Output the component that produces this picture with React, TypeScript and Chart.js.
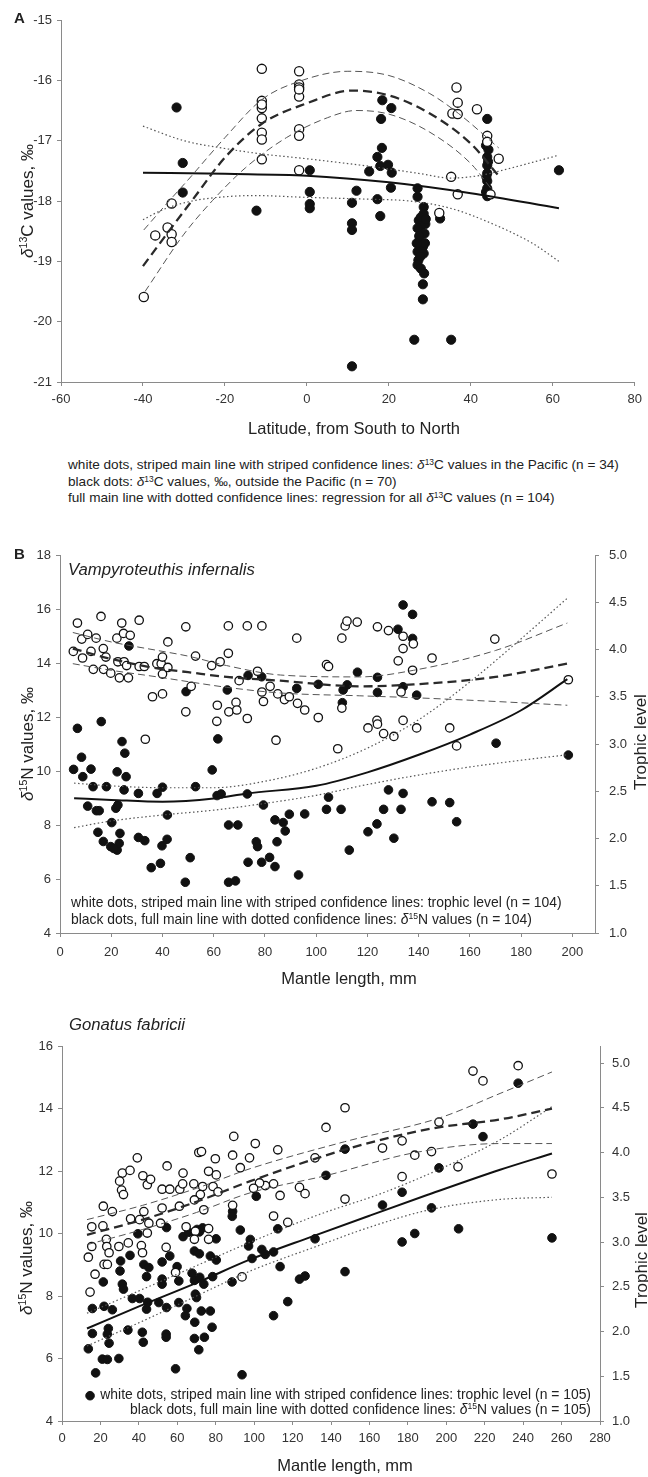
import React, { useEffect, useRef } from "react";
import { Chart, registerables } from "chart.js";
Chart.register(...registerables);

type P = [number, number];
const FONT = '"Liberation Sans", Arial, Helvetica, sans-serif';
const AXIS = "#8a8a8a";
const TICK_TXT = "#333";

// ---------------- Panel A : latitude vs d13C ----------------
const aPacific: P[] = [
  [-11, -15.81], [-1.9, -15.85], [-1.9, -16.07], [-1.9, -16.12], [-1.9, -16.27], [-11, -16.34], [-11, -16.46],
  [-11, -16.63], [-11, -16.87], [-11, -16.98], [-11, -17.31], [-1.9, -16.81], [-1.9, -16.92], [-1.9, -17.49],
  [36.5, -16.12], [36.8, -16.37], [35.5, -16.55], [36.8, -16.56], [41.5, -16.48], [44, -16.92], [46.8, -17.3],
  [35.2, -17.6], [36.8, -17.89], [44.8, -17.89], [32.3, -18.2], [-33, -18.04], [-34, -18.44], [-33, -18.55],
  [-37, -18.57], [-33, -18.68], [-39.8, -19.59], [-11, -16.4], [-1.9, -16.15], [44, -17.02],
];
const aOutside: P[] = [
  [-31.8, -16.45], [-30.3, -17.37], [-30.3, -17.86], [0.7, -17.49], [0.7, -17.85], [0.7, -18.05], [0.7, -18.12],
  [18.4, -16.33], [20.6, -16.46], [18.1, -16.64], [18.3, -17.12], [17.2, -17.27], [17.9, -17.42], [15.2, -17.51],
  [20.7, -17.53], [20.5, -17.78], [12.1, -17.83], [44, -16.64], [44, -17.02], [43.7, -17.08], [44, -17.27],
  [44, -17.41], [44, -17.54], [44, -17.67], [44, -17.79], [43.7, -17.85], [61.5, -17.49], [27, -17.79],
  [27, -17.93], [-12.3, -18.16], [11, -18.03], [11, -18.37], [11, -18.48], [17.2, -17.97], [17.9, -18.25],
  [32.5, -18.29], [26.2, -20.3], [35.2, -20.3], [11, -20.74], [44, -17.92], [28.5, -18.1], [28.5, -18.21],
  [27.3, -18.32], [28, -18.4], [27, -18.45], [28.7, -18.54], [27.5, -18.65], [28.3, -18.76], [27, -18.84],
  [28.5, -18.87], [27.2, -18.98], [27, -19.06], [27.8, -19.12], [28.6, -19.2], [28.3, -19.38], [28.3, -19.63],
  [44.3, -17.15], [43.8, -17.6], [44.2, -17.35], [27.8, -18.27], [28.9, -18.38], [27.4, -18.58], [28.8, -18.7],
  [27.7, -18.92], [26.8, -18.7], [29, -18.3], [19.8, -17.4],
];
const aPacFit: P[] = [
  [-40, -19.08], [-34, -18.53], [-28, -17.99], [-20, -17.28], [-11, -16.72], [0, -16.38], [11, -16.17],
  [20, -16.25], [30, -16.55], [40, -17.05], [47, -17.6],
];
const aPacUpper: P[] = [
  [-39.8, -18.48], [-33.5, -17.99], [-29, -17.65], [-20, -16.95], [-11, -16.32], [-2, -16.02], [10, -15.85],
  [20, -15.92], [30, -16.22], [37, -16.55], [46.8, -17.12],
];
const aPacLower: P[] = [
  [-39.5, -19.5], [-30, -18.55], [-23, -17.99], [-15, -17.45], [-5, -16.95], [5, -16.62], [12, -16.5],
  [20, -16.56], [30, -16.86], [40, -17.38], [45, -17.8],
];
const aAllFit: P[] = [[-40, -17.53], [-20, -17.55], [0, -17.58], [20, -17.69], [40, -17.87], [61.5, -18.12]];
const aAllUpper: P[] = [
  [-40, -16.76], [-30, -17.0], [-20, -17.13], [-11, -17.22], [0, -17.3], [10, -17.38], [18, -17.45],
  [28, -17.55], [35, -17.62], [42, -17.58], [50, -17.45], [61.5, -17.24],
];
const aAllLower: P[] = [
  [-40, -18.31], [-35, -18.14], [-28, -18.0], [-20, -17.93], [-13, -17.91], [0, -17.94], [15, -17.97],
  [25, -18.0], [35, -18.12], [45, -18.37], [55, -18.7], [61.5, -19.0],
];

// ---------------- Panel B : Vampyroteuthis infernalis ----------------
const bTrophic: P[] = [
  [6.8, 4.28], [5.2, 3.98], [8.8, 3.91], [8.5, 4.11], [10.8, 4.16], [12.1, 3.98], [13, 3.79], [14.1, 4.12],
  [16, 4.35], [16.9, 4.01], [17.9, 3.92], [17, 3.79], [19.8, 3.75], [22.2, 4.12], [22.6, 3.87], [23.2, 3.7],
  [24.1, 4.28], [24.8, 4.17], [25, 3.87], [26, 3.83], [26.7, 3.7], [27.4, 4.15], [30.9, 4.31], [30.9, 3.82],
  [32.9, 3.82], [33.3, 3.05], [36.1, 3.5], [37.8, 3.85], [39.5, 3.85], [40, 3.53], [40, 3.74], [40, 3.92],
  [42.1, 3.81], [42.1, 4.08], [49.1, 4.24], [49.1, 3.34], [51.2, 3.61], [52.9, 3.93], [59.2, 3.83], [61.4, 3.41],
  [61.2, 3.24], [62.5, 3.87], [65.7, 3.96], [65.7, 4.25], [65.9, 3.34], [68.7, 3.44], [69, 3.36], [69.9, 3.67],
  [73.1, 4.25], [73.1, 3.27], [78.8, 4.25], [77.1, 3.77], [78.8, 3.55], [79.4, 3.45], [82, 3.61], [84.3, 3.04],
  [85, 3.53], [87.6, 3.47], [89.5, 3.5], [92.4, 4.12], [92.7, 3.43], [95.5, 3.36], [100.8, 3.28], [104, 3.84],
  [104.8, 3.82], [108.4, 2.95], [110, 4.12], [110, 3.38], [111.3, 4.25], [112, 4.3], [116, 4.29], [120.2, 3.17],
  [123.7, 3.25], [123.9, 3.21], [126.3, 3.11], [130.3, 3.08], [123.9, 4.24], [128.2, 4.2], [132, 3.88],
  [133.9, 4.01], [133.9, 4.14], [133.1, 3.55], [133.9, 3.25], [137.9, 4.06], [137.6, 3.78], [139.2, 3.17],
  [145.2, 3.91], [152.1, 3.17], [154.8, 2.98], [169.7, 4.11], [198.4, 3.68],
];
const bN15: P[] = [
  [6.8, 11.58], [8.4, 10.51], [5.3, 10.06], [8.9, 9.79], [12.1, 10.07], [16.1, 11.83], [24.2, 11.09],
  [25.3, 10.66], [25.8, 9.79], [22.3, 9.97], [26.9, 14.63], [49.2, 12.94], [59.4, 10.04], [61.6, 11.19],
  [65.3, 13.0], [73.4, 13.54], [78.7, 13.49], [92.4, 13.06], [100.8, 13.21], [110.2, 12.53], [110.5, 13.0],
  [112.1, 13.19], [116.1, 13.66], [123.9, 13.47], [123.9, 12.91], [131.9, 15.25], [133.9, 16.15], [137.6, 15.8],
  [137.6, 14.91], [133.9, 13.12], [139.2, 12.81], [170.2, 11.03], [198.4, 10.59],
  [12.9, 9.42], [18.1, 9.42], [25, 9.3], [30.6, 9.17], [40, 9.4], [37.9, 9.17], [52.9, 9.42], [61.3, 9.09],
  [62.9, 9.15], [73.1, 9.15], [128.2, 9.3], [133.9, 9.17], [10.8, 8.7], [14.2, 8.53], [15.3, 8.53], [21.8, 8.62],
  [22.6, 8.74], [14.8, 7.73], [16.9, 7.39], [19.8, 7.2], [20.2, 8.09], [22.3, 7.07], [23.1, 7.32], [23.4, 7.69],
  [21, 7.13], [30.6, 7.54], [33.1, 7.42], [35.6, 6.42], [39.2, 6.58], [39.8, 7.23], [41.8, 7.47], [41.9, 8.37],
  [48.9, 5.88], [50.8, 6.79], [65.8, 8.0], [65.8, 5.88], [69.4, 8.0], [68.5, 5.93], [73.4, 6.62], [76.6, 7.38],
  [77.1, 7.2], [78.7, 6.62], [79.4, 8.74], [81.8, 6.8], [83.9, 6.46], [83.9, 8.19], [84.7, 7.38], [87.1, 8.09],
  [87.9, 7.78], [89.5, 8.4], [93.1, 6.15], [95.5, 8.41], [104, 8.58], [104.8, 9.03], [109.7, 8.58], [112.9, 7.07],
  [120.2, 7.75], [123.7, 8.04], [126.3, 8.58], [130.3, 7.51], [133.1, 8.58], [145.2, 8.86], [152.1, 8.83],
  [154.8, 8.12],
];
const bTLFit: P[] = [[5, 4.01], [20, 3.9], [38, 3.8], [50, 3.76], [65, 3.71], [86, 3.67], [117, 3.61], [138, 3.63], [170, 3.71], [198, 3.85]];
const bTLUpper: P[] = [[5, 4.18], [20, 4.08], [38, 3.99], [50, 3.93], [65, 3.83], [86, 3.73], [117, 3.71], [138, 3.78], [170, 3.99], [198, 4.28]];
const bTLLower: P[] = [[5, 3.85], [20, 3.78], [38, 3.71], [50, 3.66], [65, 3.6], [86, 3.54], [117, 3.51], [138, 3.49], [170, 3.45], [198, 3.41]];
const bNFit: P[] = [[5.5, 8.99], [20, 8.93], [40, 8.86], [60, 8.98], [73, 9.17], [100, 9.45], [120, 9.95], [140, 10.6], [160, 11.35], [180, 12.25], [198, 13.4]];
const bNUpper: P[] = [[5.5, 9.55], [20, 9.45], [40, 9.38], [60, 9.38], [80, 9.62], [100, 10.1], [120, 10.85], [140, 11.9], [160, 13.3], [180, 14.9], [198, 16.4]];
const bNLower: P[] = [[5.5, 7.9], [20, 8.15], [40, 8.37], [60, 8.55], [80, 8.8], [100, 9.1], [120, 9.5], [140, 9.85], [160, 10.15], [180, 10.4], [198, 10.6]];

// ---------------- Panel C : Gonatus fabricii ----------------
const cTrophic: P[] = [
  [39.2, 3.94], [54.7, 3.85], [71.2, 4.0], [72.6, 4.01], [79.8, 3.93], [88.8, 3.97], [92.8, 3.83], [97.6, 3.94],
  [100.6, 4.1], [31.4, 3.77], [35.4, 3.8], [30, 3.68], [31, 3.58], [32, 3.53], [42.1, 3.74], [44.4, 3.64],
  [46.1, 3.7], [52.1, 3.59], [56.1, 3.59], [61.3, 3.59], [63, 3.77], [62.8, 3.65], [68.6, 3.65], [73.2, 3.62],
  [76.3, 3.79], [78.6, 3.62], [80.3, 3.75], [81.2, 3.56], [72, 3.53], [68.9, 3.47], [73.8, 3.36], [21.5, 3.4],
  [26.2, 3.34], [35.7, 3.26], [40.4, 3.25], [42.6, 3.34], [45.2, 3.21], [51.3, 3.21], [52.1, 3.38], [61.1, 3.4],
  [64.6, 3.17], [76.3, 3.15], [69.4, 3.12], [44.4, 3.1], [15.5, 3.17], [21.3, 3.18], [15.5, 2.95], [23.1, 3.03],
  [23.3, 2.95], [29.6, 2.95], [34.5, 2.99], [41.3, 2.96], [41.9, 2.88], [24.5, 2.88], [13.7, 2.83], [21.9, 2.75],
  [23.6, 2.75], [54.2, 2.94], [68.9, 3.03], [76.3, 3.03], [59.1, 2.66], [88.8, 3.41], [17.2, 2.64], [14.6, 2.44],
  [93.7, 2.61], [213.9, 4.91], [219.1, 4.8], [147.3, 4.5], [137.4, 4.28], [112.3, 4.03], [131.7, 3.94],
  [166.8, 4.05], [177, 4.13], [196.2, 4.34], [183.6, 3.97], [192.3, 4.01], [206.1, 3.84], [177, 3.73],
  [147.3, 3.48], [123.6, 3.61], [126.5, 3.54], [113.5, 3.52], [110.1, 3.29], [117.5, 3.22], [110.1, 3.65],
  [105.8, 3.63], [102.8, 3.66], [99.7, 3.6], [237.4, 4.97], [255, 3.76], [89.4, 4.18],
];
const cN15: P[] = [
  [147.3, 12.7], [137.4, 11.86], [196.2, 12.1], [177, 11.32], [166.8, 10.91], [192.3, 10.82], [206.4, 10.15],
  [183.6, 10.0], [177, 9.73], [147.3, 8.78], [131.7, 9.83], [112.3, 10.15], [113.5, 8.94], [123.6, 8.54],
  [126.5, 8.64], [117.5, 7.82], [110.1, 7.37], [110.1, 9.41], [104, 9.49], [105.8, 9.33], [98.9, 9.2], [98, 9.81],
  [101.1, 11.19], [237.4, 14.81], [219.1, 13.1], [213.9, 13.5], [255, 9.86], [88.8, 10.71], [88.6, 10.55],
  [92.8, 10.11], [97.1, 9.6], [54.4, 10.19], [39.5, 9.99], [63, 9.9], [70.3, 10.13], [71.5, 10.05], [73.2, 10.18],
  [66, 10.04], [80.2, 9.83], [56.1, 9.28], [68.9, 9.44], [71.5, 9.35], [77.2, 9.28], [80.3, 9.15], [35.4, 9.3],
  [30.5, 9.12], [42.6, 9.01], [45.2, 8.91], [52.1, 9.09], [59.9, 8.94], [30.2, 8.8], [44, 8.62], [52.1, 8.54],
  [52.1, 8.38], [60.8, 8.48], [67.7, 8.73], [68.9, 8.5], [71.7, 8.6], [78.4, 8.62], [73.8, 8.38], [69.4, 8.06],
  [70, 7.95], [21.5, 8.45], [31.4, 8.38], [32, 8.22], [36.6, 7.92], [40.4, 7.92], [44, 7.58], [44.6, 7.8],
  [50.4, 7.79], [54.4, 7.63], [60.8, 7.79], [64.2, 7.37], [65, 7.6], [69.1, 7.16], [72.5, 7.52], [77.2, 7.52],
  [78.1, 7.0], [74.1, 6.68], [68.9, 6.64], [71.2, 6.28], [54.2, 6.78], [54.2, 6.68], [41.8, 6.84], [42.3, 6.52],
  [34.3, 6.91], [24.1, 6.96], [23.6, 6.78], [24.5, 6.49], [15.8, 7.6], [21.9, 7.67], [26.2, 7.56], [15.8, 6.8],
  [13.7, 6.31], [21, 5.98], [23.6, 5.97], [29.6, 6.0], [17.5, 5.54], [59.1, 5.67], [93.7, 5.48], [14.6, 4.81],
  [88.5, 8.45],
];
const cTLFit: P[] = [[13, 3.08], [42, 3.25], [70, 3.45], [98, 3.68], [150, 4.05], [193, 4.27], [228, 4.37], [255, 4.49]];
const cTLUpper: P[] = [[13, 3.25], [42, 3.41], [70, 3.6], [98, 3.82], [147, 4.12], [197, 4.39], [228, 4.66], [255, 4.9]];
const cTLLower: P[] = [[13, 2.97], [42, 3.14], [70, 3.33], [98, 3.55], [137, 3.74], [184, 4.0], [228, 4.1], [255, 4.1]];
const cNFit: P[] = [[13, 6.96], [41, 7.69], [70, 8.42], [98, 9.17], [130, 9.9], [160, 10.57], [190, 11.23], [228, 12.04], [255, 12.56]];
const cNUpper: P[] = [[13, 7.45], [26, 7.79], [60, 8.7], [98, 9.72], [133, 10.59], [167, 11.3], [197, 12.07], [228, 13.0], [255, 14.06]];
const cNLower: P[] = [[13, 6.4], [41, 7.17], [70, 8.0], [98, 8.8], [133, 9.6], [160, 10.2], [192, 10.77], [228, 11.09], [255, 11.16]];

// ---------------- helpers ----------------
const pts = (a: P[]) => a.map(([x, y]) => ({ x, y }));

function dots(a: P[], filled: boolean, r: number, yAxisID = "y") {
  return {
    data: pts(a), yAxisID, showLine: false, pointRadius: r, pointHoverRadius: r,
    pointBackgroundColor: filled ? "#111" : "#fff", pointBorderColor: "#111",
    pointBorderWidth: filled ? 1 : 1.3, order: filled ? 2 : 1,
  };
}
const STY: Record<string, any> = {
  bold: { borderColor: "#2a2a2a", borderWidth: 2.3, borderDash: [9, 5] },
  thin: { borderColor: "#555", borderWidth: 1, borderDash: [7, 4] },
  solid: { borderColor: "#111", borderWidth: 2, borderDash: [] },
  dot: { borderColor: "#555", borderWidth: 1.2, borderDash: [1.5, 2.5] },
};
function curve(a: P[], sty: string, yAxisID = "y") {
  return {
    data: pts(a), yAxisID, showLine: true, pointRadius: 0, pointHoverRadius: 0, fill: false,
    cubicInterpolationMode: "monotone", ...STY[sty], order: 0,
  };
}
const tickFont = { family: FONT, size: 13 };
function axis(extra: any) {
  return {
    type: "linear",
    grid: { display: true, drawOnChartArea: false, drawTicks: true, tickLength: 4, color: AXIS },
    border: { display: true, color: AXIS, width: 1 },
    ...extra,
    ticks: { color: TICK_TXT, font: tickFont, padding: 5, maxRotation: 0, autoSkip: false, includeBounds: false, ...(extra.ticks || {}) },
  };
}
function baseOptions(padding: any, scales: any) {
  return {
    animation: false, responsive: false, maintainAspectRatio: false, events: [],
    layout: { padding },
    plugins: { legend: { display: false }, tooltip: { enabled: false } },
    scales,
  };
}

function configA() {
  return {
    type: "scatter",
    data: {
      datasets: [
        curve(aPacFit, "bold"), curve(aPacUpper, "thin"), curve(aPacLower, "thin"),
        curve(aAllFit, "solid"), curve(aAllUpper, "dot"), curve(aAllLower, "dot"),
        dots(aPacific, false, 4.6), dots(aOutside, true, 4.6),
      ],
    },
    options: baseOptions({ top: 20, right: 11, left: 0, bottom: 0 }, {
      x: axis({ position: "bottom", min: -60, max: 80, ticks: { stepSize: 20, padding: 6 }, afterFit: (s: any) => { s.height = 58; } }),
      y: axis({ position: "left", min: -21, max: -15, ticks: { stepSize: 1 }, afterFit: (s: any) => { s.width = 61; } }),
    }),
  };
}
const fix1 = (v: any) => Number(v).toFixed(1);
function configB() {
  return {
    type: "scatter",
    data: {
      datasets: [
        curve(bTLFit, "bold", "y2"), curve(bTLUpper, "thin", "y2"), curve(bTLLower, "thin", "y2"),
        curve(bNFit, "solid"), curve(bNUpper, "dot"), curve(bNLower, "dot"),
        dots(bTrophic, false, 4.2, "y2"), dots(bN15, true, 4.3),
      ],
    },
    options: baseOptions({ top: 35, right: 0, left: 0, bottom: 0 }, {
      x: axis({ position: "bottom", min: 0, max: 208.8, ticks: { stepSize: 20, padding: 8 }, afterFit: (s: any) => { s.height = 37; } }),
      y: axis({ position: "left", min: 4, max: 18, ticks: { stepSize: 2 }, afterFit: (s: any) => { s.width = 60; } }),
      y2: axis({ position: "right", min: 1, max: 5, ticks: { stepSize: 0.5, callback: fix1, padding: 10 }, afterFit: (s: any) => { s.width = 53; } }),
    }),
  };
}
function configC() {
  return {
    type: "scatter",
    data: {
      datasets: [
        curve(cTLFit, "bold", "y2"), curve(cTLUpper, "thin", "y2"), curve(cTLLower, "thin", "y2"),
        curve(cNFit, "solid"), curve(cNUpper, "dot"), curve(cNLower, "dot"),
        dots(cTrophic, false, 4.2, "y2"), dots(cN15, true, 4.3),
      ],
    },
    options: baseOptions({ top: 16, right: 0, left: 0, bottom: 0 }, {
      x: axis({ position: "bottom", min: 0, max: 280, ticks: { stepSize: 20, padding: 6 }, afterFit: (s: any) => { s.height = 56; } }),
      y: axis({ position: "left", min: 4, max: 16, ticks: { stepSize: 2 }, afterFit: (s: any) => { s.width = 62; } }),
      y2: axis({ position: "right", min: 1, max: 5.19, ticks: { stepSize: 0.5, callback: fix1, padding: 8 }, afterFit: (s: any) => { s.width = 48; } }),
    }),
  };
}

function ChartCanvas({ top, height, make }: { top: number; height: number; make: () => any }) {
  const ref = useRef<HTMLCanvasElement>(null);
  useEffect(() => {
    const c = new Chart(ref.current as HTMLCanvasElement, make() as any);
    return () => c.destroy();
  }, []);
  return <canvas ref={ref} width={648} height={height} style={{ position: "absolute", left: 0, top, width: 648, height }} />;
}

const base: React.CSSProperties = { position: "absolute", fontFamily: FONT, color: "#222", whiteSpace: "nowrap", lineHeight: 1 };
function TL({ x, y, size = 13.6, children, style }: any) {
  return <div style={{ ...base, left: x, top: y, fontSize: size, transform: "translateY(-50%)", ...style }}>{children}</div>;
}
function TR({ right, y, size = 13.9, children }: any) {
  return <div style={{ ...base, right, top: y, fontSize: size, transform: "translateY(-50%)", textAlign: "right" }}>{children}</div>;
}
function TC({ x, y, size = 17, children, rot = false }: any) {
  return <div style={{ ...base, left: x, top: y, fontSize: size, transform: `translate(-50%,-50%)${rot ? " rotate(-90deg)" : ""}` }}>{children}</div>;
}
const Sup = ({ children }: any) => <sup style={{ fontSize: "0.62em", verticalAlign: "0.55em", lineHeight: 0 }}>{children}</sup>;
const D13 = () => <span><i>δ</i><Sup>13</Sup>C</span>;
const D15 = () => <span><i>δ</i><Sup>15</Sup>N</span>;

export default function App() {
  useEffect(() => { document.body.style.margin = "0"; }, []);
  return (
    <div style={{ position: "relative", width: 648, height: 1477, background: "#fff", overflow: "hidden" }}>
      <ChartCanvas top={0} height={440} make={configA} />
      <ChartCanvas top={520} height={450} make={configB} />
      <ChartCanvas top={1030} height={447} make={configC} />

      {/* Panel A texts */}
      <TL x={14} y={17} size={15} style={{ fontWeight: "bold" }}>A</TL>
      <TC x={27} y={201} rot>
        <D13 /> values, ‰
      </TC>
      <TC x={354} y={428} size={16.5}>Latitude, from South to North</TC>
      <TL x={68} y={465}>white dots, striped main line with striped confidence lines: <D13 /> values in the Pacific (n = 34)</TL>
      <TL x={68} y={482}>black dots: <D13 /> values, ‰, outside the Pacific (n = 70)</TL>
      <TL x={68} y={498}>full main line with dotted confidence lines: regression for all <D13 /> values (n = 104)</TL>

      {/* Panel B texts */}
      <TL x={14} y={553} size={15} style={{ fontWeight: "bold" }}>B</TL>
      <TL x={68} y={570} size={16.7} style={{ fontStyle: "italic" }}>Vampyroteuthis infernalis</TL>
      <TC x={27} y={744} rot>
        <D15 /> values, ‰
      </TC>
      <TC x={640} y={742} rot>Trophic level</TC>
      <TL x={71} y={903} size={13.9}>white dots, striped main line with striped confidence lines: trophic level (n = 104)</TL>
      <TL x={71} y={920} size={13.9}>black dots, full main line with dotted confidence lines: <D15 /> values (n = 104)</TL>
      <TC x={349} y={978} size={16.5}>Mantle length, mm</TC>

      {/* Panel C texts */}
      <TL x={69} y={1025} size={16.7} style={{ fontStyle: "italic" }}>Gonatus fabricii</TL>
      <TC x={26} y={1258} rot>
        <D15 /> values, ‰
      </TC>
      <TC x={641} y={1260} rot>Trophic level</TC>
      <TR right={57} y={1395}>white dots, striped main line with striped confidence lines: trophic level (n = 105)</TR>
      <TR right={57} y={1410}>black dots, full main line with dotted confidence lines: <D15 /> values (n = 105)</TR>
      <TC x={345} y={1465} size={16.5}>Mantle length, mm</TC>
    </div>
  );
}
